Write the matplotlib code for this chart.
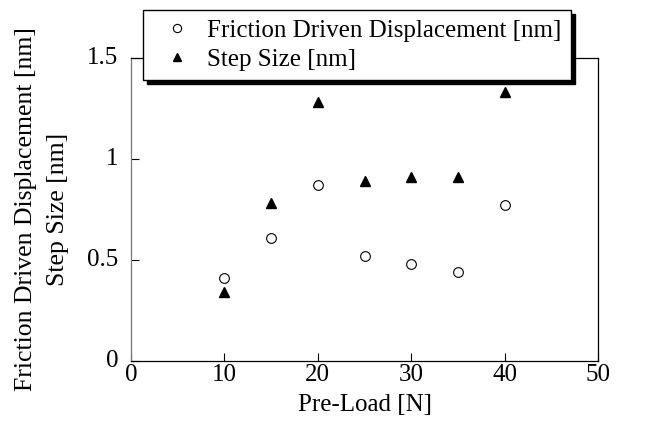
import matplotlib
matplotlib.use("Agg")
import matplotlib.pyplot as plt
import matplotlib.transforms as mtransforms

plt.rcParams['font.family'] = ['Liberation Serif', 'DejaVu Serif']

preload = [10, 15, 20, 25, 30, 35, 40]
friction_disp = [0.41, 0.61, 0.87, 0.52, 0.48, 0.44, 0.77]
step_size = [0.34, 0.78, 1.28, 0.89, 0.91, 0.91, 1.33]

x_ticks = [0, 10, 20, 30, 40, 50]
y_ticks = [0, 0.5, 1, 1.5]
y_ticklabels = ['0', '0.5', '1', '1.5']

FS = 18

fig = plt.figure(figsize=(6.67, 4.21), dpi=100)
ax = fig.add_axes([131/667, 1-361/421, (598-131)/667, (361-58)/421])

ax.plot(preload, friction_disp, linestyle='none', marker='o', markersize=7,
        markerfacecolor='white', markeredgecolor='black', markeredgewidth=0.8,
        label='Friction Driven Displacement [nm]')
ax.plot(preload, step_size, linestyle='none', marker='^', markersize=7,
        markerfacecolor='black', markeredgecolor='black',
        label='Step Size [nm]')

ax.set_xlim(0, 50)
ax.set_ylim(0, 1.5)
ax.set_xticks(x_ticks)
ax.set_yticks(y_ticks)
ax.set_yticklabels(y_ticklabels)
ax.tick_params(direction='in', length=6, width=0.8, labelsize=FS, pad=2)
ax.tick_params(axis='y', pad=9)
for s in ax.spines.values():
    s.set_linewidth(0.9)
ax.spines['left'].set_color('#777777')

offset = mtransforms.ScaledTranslation(0, 2.5/100, fig.dpi_scale_trans)
for lbl in ax.get_yticklabels():
    lbl.set_transform(lbl.get_transform() + offset)

ax.set_xlabel('Pre-Load [N]', fontsize=FS, labelpad=6)
ax.set_ylabel('Friction Driven Displacement [nm]\nStep Size [nm]', fontsize=18.5,
              labelpad=13, linespacing=1.6)

leg = fig.legend(loc='upper left', bbox_to_anchor=(143/667, 1-10/421),
                 fontsize=FS, frameon=True, fancybox=False,
                 shadow={'color': 'black', 'alpha': 1, 'ox': 3, 'oy': -3},
                 borderpad=0.37, labelspacing=0.26, handletextpad=0.21,
                 handlelength=1.98, borderaxespad=0, markerscale=0.85)
leg.get_frame().set_edgecolor('black')
leg.get_frame().set_linewidth(1.0)
leg.get_frame().set_alpha(1)

fig.savefig('out.png', dpi=100)
